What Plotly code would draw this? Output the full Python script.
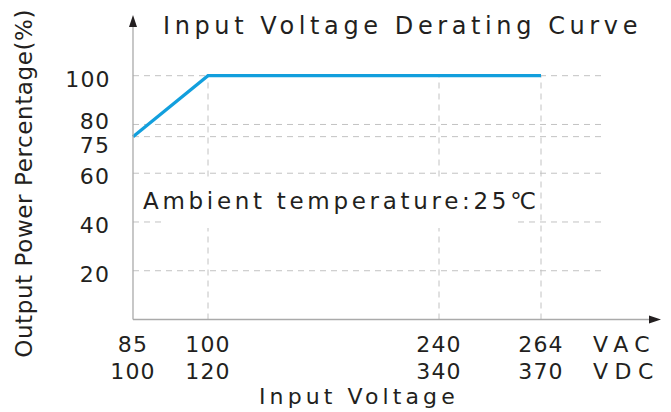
import numpy as np
import plotly.graph_objects as go

# ---------------- data ----------------
input_vac = [85, 100, 264]          # curve break points (VAC)
output_pct = [75, 100, 100]         # output power percentage
vac_ticks = [85, 100, 240, 264]     # x tick labels, row 1
vdc_ticks = [100, 120, 340, 370]    # x tick labels, row 2
pct_ticks = [100, 80, 75, 60, 40, 20]
grid_vac = [100, 240, 264]
title_text = "Input Voltage Derating Curve"
note_text = "Ambient temperature:25\u2103"
x_title = "Input Voltage"
y_title = "Output Power Percentage(%)"

# ---------------- layout / scale constants ----------------
W, H = 671, 412
AX_X0 = 133.0        # pixel column of the y axis
AX_Y0 = 319.5        # pixel row of the x axis
PX_PER_PCT = 2.438   # vertical scale
PLOT_L, PLOT_R, PLOT_T, PLOT_B = 128, 662, 12, 324
# schematic (piecewise) horizontal scale: voltage -> pixel offset from y axis
X_BREAK_VAC = [85, 100, 240, 264]
X_BREAK_POS = [0, 75, 306, 408]


def xpos(v):
    return np.interp(v, X_BREAK_VAC, X_BREAK_POS)


def ux(px):
    return px - AX_X0


def uy(py):
    return (AX_Y0 - py) / PX_PER_PCT


def paper_x(px):
    return (px - PLOT_L) / (PLOT_R - PLOT_L)


def paper_y(py):
    return (PLOT_B - py) / (PLOT_B - PLOT_T)


def pos_to_paper_x(u):
    return paper_x(u + AX_X0)


def pct_to_paper_y(p):
    return paper_y(AX_Y0 - p * PX_PER_PCT)


FONT = "DejaVu Sans"
TXT = "#231f20"
BLUE = "#129fdd"
GRID = "#c2c2c2"
AXIS = "#aaaaaa"

fig = go.Figure()
fig.add_trace(go.Scatter(
    x=xpos(input_vac), y=output_pct, mode="lines",
    line=dict(color=BLUE, width=3.2), hoverinfo="skip", showlegend=False,
))

shapes = []
GRID_END = ux(604)
for p in pct_ticks:
    shapes.append(dict(type="line", xref="x", yref="y", x0=0, x1=GRID_END, y0=p, y1=p,
                       line=dict(color=GRID, width=1, dash="6px,5px"), layer="below"))
for v in grid_vac:
    shapes.append(dict(type="line", xref="x", yref="y", x0=xpos(v), x1=xpos(v), y0=0, y1=100,
                       line=dict(color=GRID, width=1, dash="6px,5px"), layer="below"))
# white box behind the note
shapes.append(dict(type="rect", xref="x", yref="y", x0=ux(163), x1=ux(517), y0=uy(228), y1=uy(178),
                   fillcolor="white", line=dict(width=0), layer="below"))
# axis lines
shapes.append(dict(type="line", xref="x", yref="y", x0=0, x1=ux(652), y0=0, y1=0,
                   line=dict(color=AXIS, width=1.3)))
shapes.append(dict(type="line", xref="x", yref="y", x0=0, x1=0, y0=0, y1=uy(24),
                   line=dict(color=AXIS, width=1.3)))
# arrow heads
shapes.append(dict(type="path", xref="x", yref="y", xsizemode="pixel", ysizemode="pixel",
                   xanchor=ux(661), yanchor=0, path="M0,0 L-12,4 L-12,-4 Z",
                   fillcolor=TXT, line=dict(width=0)))
shapes.append(dict(type="path", xref="x", yref="y", xsizemode="pixel", ysizemode="pixel",
                   xanchor=0, yanchor=uy(15), path="M0,0 L-4,-12 L4,-12 Z",
                   fillcolor=TXT, line=dict(width=0)))

ann = []
spacing = {}


def add_text(text, x, y, size, xanchor="center", align="center", ls=None, **kw):
    if ls is not None:
        spacing[len(ann)] = ls
    ann.append(dict(text=text, x=x, y=y, xref="paper", yref="paper", showarrow=False,
                    xanchor=xanchor, yanchor="middle", align=align,
                    font=dict(family=FONT, size=size, color=TXT), **kw))


add_text(title_text, paper_x(161), paper_y(26.5), 24, xanchor="left", align="left", ls=4.6)
add_text(note_text, paper_x(140.5), paper_y(201), 23, xanchor="left", align="left", ls=3.7)
add_text(x_title, paper_x(257), paper_y(396.5), 22, xanchor="left", align="left", ls=4.1)
add_text("VAC", paper_x(590.5), paper_y(344), 22, xanchor="left", align="left", ls=6.5)
add_text("VDC", paper_x(590.5), paper_y(372), 22, xanchor="left", align="left", ls=6.5)
add_text(y_title, paper_x(24), paper_y(184), 23, textangle=-90, ls=0.6)

for v, d in zip(vac_ticks, vdc_ticks):
    add_text(str(v), pos_to_paper_x(xpos(v)), paper_y(344), 22)
    add_text(str(d), pos_to_paper_x(xpos(v)), paper_y(372), 22)

label_shift = {80: 2.5, 75: -8.5}
for p in pct_ticks:
    add_text(str(p), paper_x(111), pct_to_paper_y(p), 22, xanchor="right",
             yshift=label_shift.get(p, -3.5))

fig.update_layout(
    width=W, height=H,
    margin=dict(l=PLOT_L, r=W - PLOT_R, t=PLOT_T, b=H - PLOT_B, pad=0),
    paper_bgcolor="white", plot_bgcolor="white",
    xaxis=dict(visible=False, range=[ux(PLOT_L), ux(PLOT_R)], fixedrange=True),
    yaxis=dict(visible=False, range=[uy(PLOT_B), uy(PLOT_T)], fixedrange=True),
    shapes=shapes, annotations=ann, showlegend=False,
)

css = "body{margin:0;}.annotation text{letter-spacing:1.2px;}" + "".join(
    '.annotation[data-index="%d"] text{letter-spacing:%.1fpx;}' % (i, s) for i, s in spacing.items())
post = ("var s=document.createElement('style');s.textContent='%s';"
        "document.head.appendChild(s);" % css)

fig.write_html("out.html", post_script=post, config={"displayModeBar": False})
